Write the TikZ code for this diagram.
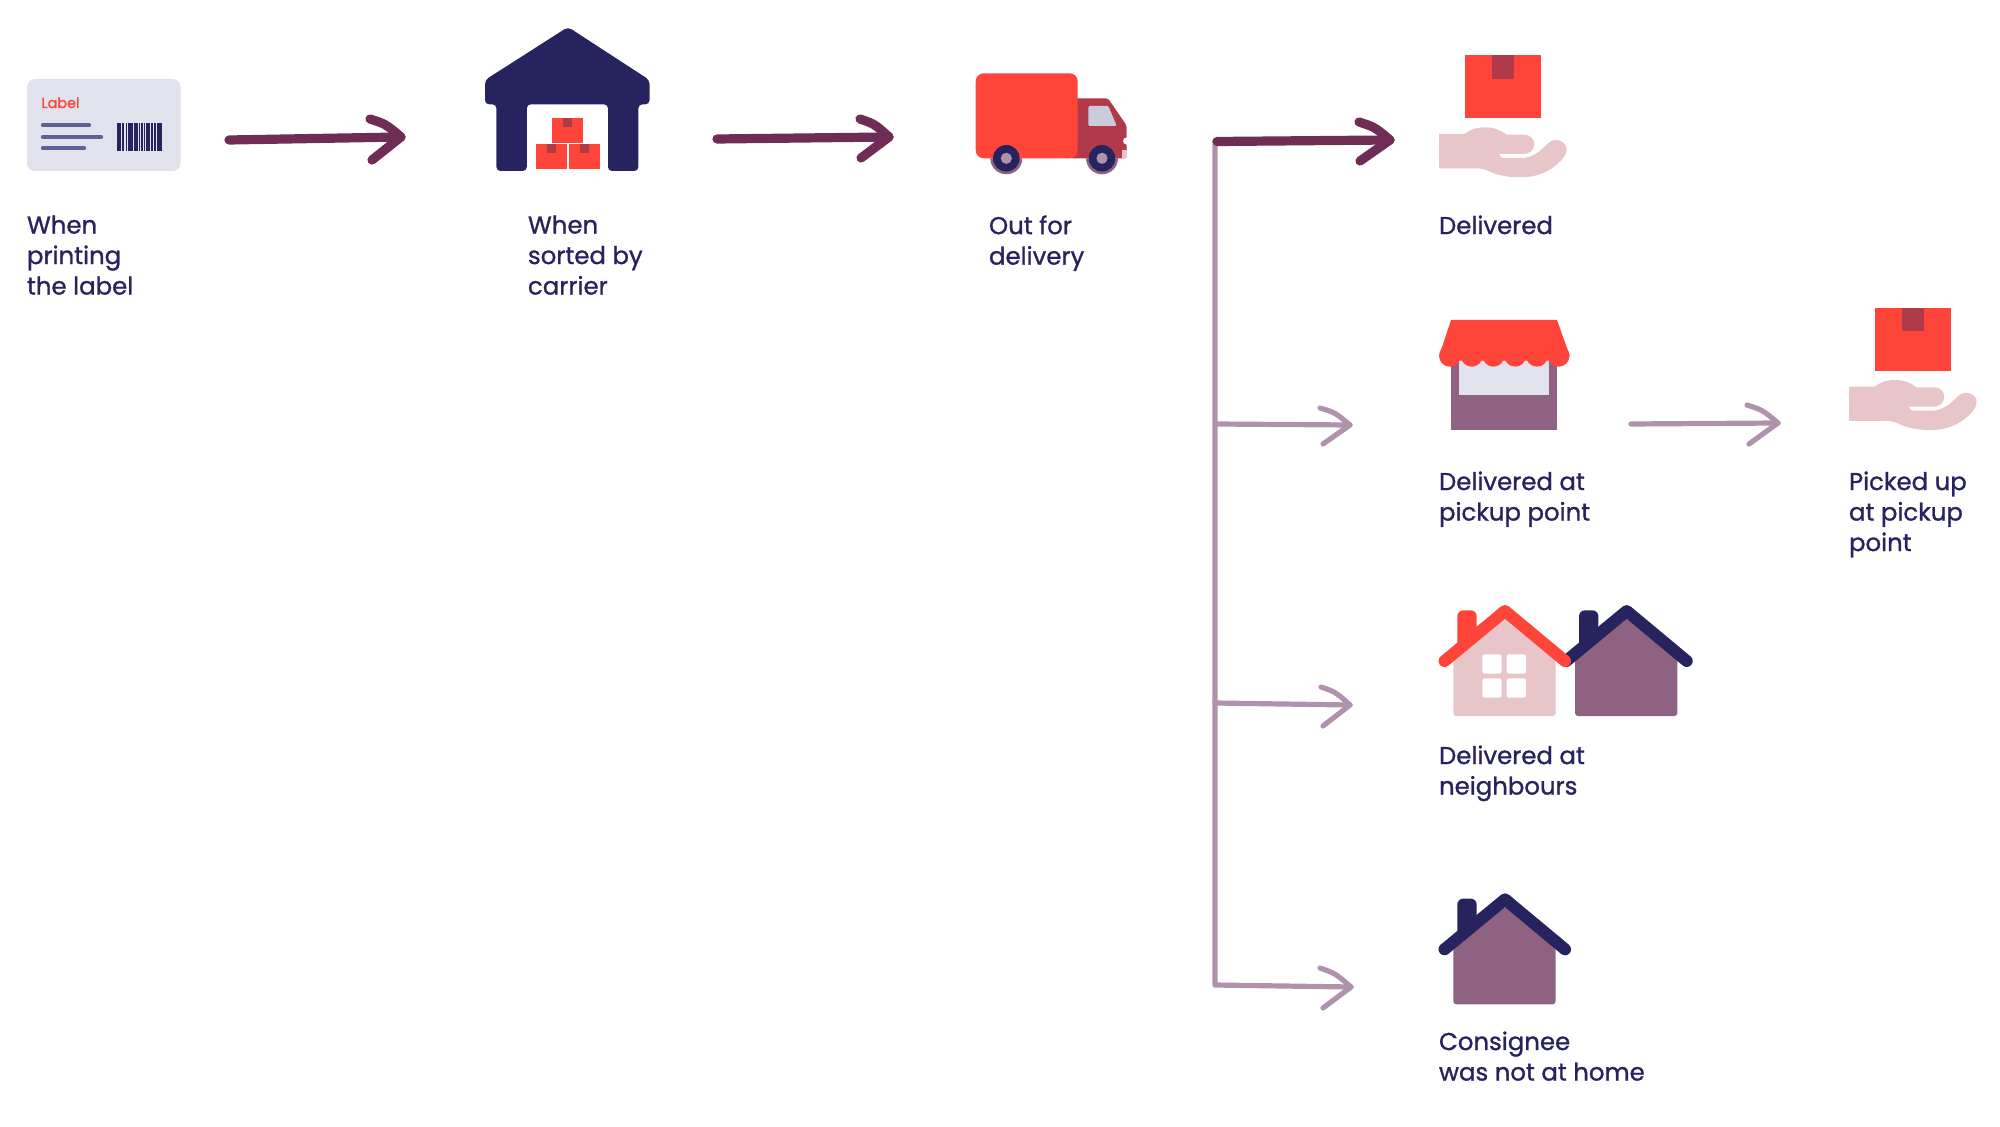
\documentclass[tikz,border=0pt]{standalone}
\usepackage{fontspec}
\usetikzlibrary{calc}
\setmainfont[FakeBold=1.1]{Poppins}
\definecolor{navy}{HTML}{27235F}
\definecolor{redb}{HTML}{FF4539}
\definecolor{tape}{HTML}{B13A4A}
\definecolor{mauve}{HTML}{8E6280}
\definecolor{pinkb}{HTML}{E8C5C8}
\definecolor{cardc}{HTML}{E1E2EB}
\definecolor{wine}{HTML}{6F2D56}
\definecolor{lilac}{HTML}{B192AC}
\definecolor{slate}{HTML}{5F6196}
\definecolor{glass}{HTML}{CACBDB}
\newcommand{\handbox}{%
  \fill[redb] (1874.5,307.7) rectangle (1950.7,371);
  \fill[tape] (1902,307.7) rectangle (1923.5,331.3);
  \fill[pinkb] (1849,386.7) -- (1874.5,386.7)
    .. controls (1882,381) and (1889,380) .. (1895.6,380)
    .. controls (1904,380) and (1911,383) .. (1916.6,387.3)
    -- (1933.9,387.3)
    .. controls (1940,387.3) and (1944.2,391.5) .. (1944.2,396.7)
    .. controls (1944.2,402) and (1940,406.7) .. (1933.9,406.7)
    -- (1909,406.7)
    .. controls (1910,409) and (1911,410.7) .. (1913,410.7)
    -- (1932,410.7)
    .. controls (1942,410.7) and (1950,404) .. (1955,399)
    .. controls (1959,395) and (1962,392.7) .. (1966,392.7)
    .. controls (1972,392.7) and (1976.7,397) .. (1976.7,402)
    .. controls (1976.7,406) and (1974,410) .. (1970.2,414)
    .. controls (1958,426) and (1945,430) .. (1930,430)
    .. controls (1915,430) and (1905,427) .. (1897,423)
    .. controls (1892,421) and (1888,421) .. (1884,421)
    -- (1849,421) -- cycle;
}
\newcommand{\househouse}[2]{%
  \fill[#1,rounded corners=3pt] (1457.3,650) -- (1457.3,610.3) -- (1476.7,610.3) -- (1476.7,640) -- cycle;
  \fill[#2,rounded corners=1.5pt] (1453.3,716) -- (1453.3,655) -- (1505,618) -- (1555.7,655) -- (1555.7,716) -- cycle;
  \draw[#1,line width=6pt,line cap=round,line join=round] (1444.5,661) -- (1505,611) -- (1565,661);
}
\tikzset{
  conn/.style={line cap=round,line join=round},
  darkline/.style={conn,draw=wine,line width=4.6pt},
  lightline/.style={conn,draw=lilac,line width=2.6pt},
  captext/.style={anchor=north west,inner sep=0pt,outer sep=0pt,align=left,text=navy,
    font=\fontsize{12.2pt}{15.25pt}\selectfont},
}
\begin{document}
\begin{tikzpicture}[x=0.5pt,y=-0.5pt]
\useasboundingbox (0,0) rectangle (2000,1127);
% --- connector ends
\coordinate (a1s) at (229,140); \coordinate (a1t) at (401,137); \coordinate (a1u) at (370,119); \coordinate (a1l) at (372,160);
\coordinate (a2s) at (717,139); \coordinate (a2t) at (889,137); \coordinate (a2u) at (860,119); \coordinate (a2l) at (861,158);
\coordinate (t0) at (1215,141); \coordinate (d0) at (1217,141.5); \coordinate (a3t) at (1390,140); \coordinate (a3u) at (1359,122); \coordinate (a3l) at (1360,161);
\coordinate (t1) at (1215,424); \coordinate (b1t) at (1350,425); \coordinate (b1u) at (1320,408); \coordinate (b1l) at (1323,444);
\coordinate (t2) at (1215,703); \coordinate (b2t) at (1350,705); \coordinate (b2u) at (1321,687); \coordinate (b2l) at (1323,726);
\coordinate (t3) at (1215,985); \coordinate (b3t) at (1351,987); \coordinate (b3u) at (1320,968); \coordinate (b3l) at (1323,1008);
\coordinate (p1s) at (1631,424); \coordinate (p1t) at (1778,423); \coordinate (p1u) at (1747,405); \coordinate (p1l) at (1749,444);
% --- label card
\fill[cardc,rounded corners=4pt] (27,79) rectangle (180.5,171);
\node[anchor=base west,inner sep=0pt,text=redb,font=\fontsize{7.2pt}{9pt}\selectfont] (lbl) at (41,108) {Label};
\draw[slate,line width=2.2pt,line cap=round] (43,125.3) -- (89,125.3);
\draw[slate,line width=2.2pt,line cap=round] (43,137) -- (101,137);
\draw[slate,line width=2.2pt,line cap=round] (43,148.3) -- (84,148.3);
\foreach \a/\b in {116.7/121,122/123.5,125.5/127,128.3/132.5,133.5/137.5,138.5/139.5,140.5/141.3,142.3/143.3,144/145,145.5/149.5,150.5/153,154/156,157/161.7}
  \fill[navy] (\a,122.7) rectangle (\b,150.7);
% --- warehouse
\fill[navy,rounded corners=2pt] (485,104.3) -- (485,80) -- (568,27) -- (649.5,80) -- (649.5,104.3) -- (638.4,104.3) -- (638.4,171) -- (608,171) -- (608,104.3) -- (526.8,104.3) -- (526.8,171) -- (496.4,171) -- (496.4,104.3) -- cycle;
\fill[redb] (552,117.7) rectangle (583,142.7);
\fill[redb] (536,144) rectangle (567,169.3);
\fill[redb] (569,144) rectangle (599.5,169.3);
\fill[tape] (563.4,117.7) rectangle (572,127);
\fill[tape] (547,144) rectangle (556,153);
\fill[tape] (580,144) rectangle (589,153);
% --- truck
\fill[tape,rounded corners=1pt] (1070,98.3) -- (1108,98.3) -- (1126.7,125.7) -- (1126.7,158.3) -- (1070,158.3) -- cycle;
\fill[glass,rounded corners=0.6pt] (1088.3,106) -- (1108.3,106) -- (1116.7,126) -- (1088.3,126) -- cycle;
\fill[white] (1126.7,141) circle [radius=3.6];
\fill[pinkb] (1122,150) rectangle (1126.7,158.3);
\fill[redb,rounded corners=4pt] (975.7,73.3) rectangle (1077.7,158.3);
\foreach \c in {1006.3,1102}{
  \fill[mauve] ($(\c,158.3)+(-16,0)$) arc[start angle=180,end angle=0,radius=16] -- cycle;
  \fill[navy] (\c,158.3) circle [radius=13.3];
  \fill[lilac] (\c,158.3) circle [radius=5.6];
}
% --- hands
\begin{scope}[shift={(-410,-252.7)}]\handbox\end{scope}
\handbox
% --- shop
\fill[mauve] (1451,350) rectangle (1557,430);
\fill[cardc] (1458.6,350) rectangle (1549,394.7);
\fill[redb] (1451,320) -- (1557,320) -- (1569.8,356) -- (1547.3,360.7) -- (1461.2,360.7) -- (1439,356) -- cycle;
\foreach \c in {1449.9,1471.7,1493.4,1515.2,1536.9,1558.6}
  \fill[redb] (\c,355.8) circle [radius=10.9];
% --- houses
\begin{scope}[shift={(121.7,0)}]\househouse{navy}{mauve}\end{scope}
\househouse{redb}{pinkb}
\foreach \a/\b in {1482.3/654.3,1506.7/654.3,1482.3/678.3,1506.7/678.3}
  \fill[white,rounded corners=1.2pt] (\a,\b) rectangle ++(19.4,19.4);
\begin{scope}[shift={(0,288.3)}]\househouse{navy}{mauve}\end{scope}
% --- connectors
\draw[lightline] (t0) -- (t3) -- (b3t);
\draw[lightline] (t1) -- (b1t);
\draw[lightline] (t2) -- (b2t);
\draw[lightline] (b1u) .. controls ($(b1u)!.5!(b1t)+(0,-4)$) .. (b1t) -- (b1l);
\draw[lightline] (b2u) .. controls ($(b2u)!.5!(b2t)+(0,-4)$) .. (b2t) -- (b2l);
\draw[lightline] (b3u) .. controls ($(b3u)!.5!(b3t)+(0,-4)$) .. (b3t) -- (b3l);
\draw[lightline] (p1s) -- (p1t);
\draw[lightline] (p1u) .. controls ($(p1u)!.5!(p1t)+(0,-4)$) .. (p1t) -- (p1l);
\draw[darkline] (a1s) -- (a1t);
\draw[darkline] (a1u) .. controls ($(a1u)!.5!(a1t)+(0,-4)$) .. (a1t) -- (a1l);
\draw[darkline] (a2s) -- (a2t);
\draw[darkline] (a2u) .. controls ($(a2u)!.5!(a2t)+(0,-4)$) .. (a2t) -- (a2l);
\draw[darkline] (d0) -- (a3t);
\draw[darkline] (a3u) .. controls ($(a3u)!.5!(a3t)+(0,-4)$) .. (a3t) -- (a3l);
% --- captions
\node[captext] (c1) at (27,215.5) {When\\printing\\the label};
\node[captext] (c2) at (528,215.5) {When\\sorted by\\carrier};
\node[captext] (c3) at (989,215.5) {Out for\\delivery};
\node[captext] (c4) at (1439,215.5) {Delivered};
\node[captext] (c5) at (1439,471.5) {Delivered at\\pickup point};
\node[captext] (c6) at (1849,471.5) {Picked up\\at pickup\\point};
\node[captext] (c7) at (1439,745.5) {Delivered at\\neighbours};
\node[captext] (c8) at (1439,1031.5) {Consignee\\was not at home};
\end{tikzpicture}
\end{document}
